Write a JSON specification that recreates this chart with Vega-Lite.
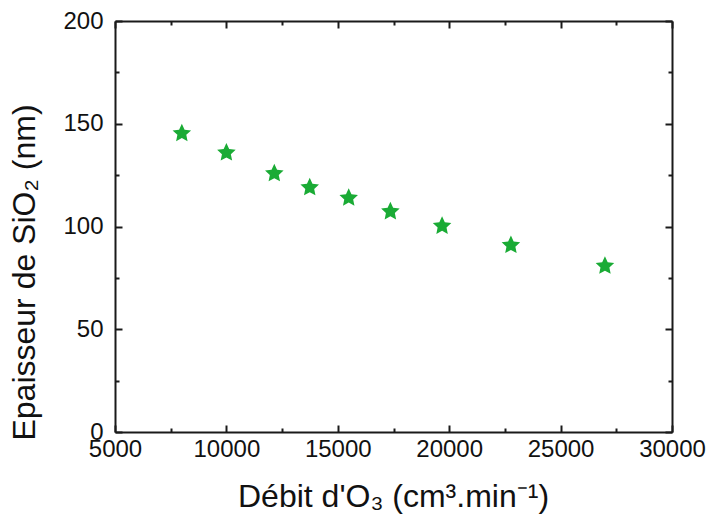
{
  "$schema": "https://vega.github.io/schema/vega-lite/v6.json",
  "width": 557,
  "height": 411,
  "autosize": {"type": "none"},
  "padding": {"left": 115, "top": 21, "right": 36, "bottom": 85},
  "background": "white",
  "config": {
    "view": {"stroke": null},
    "font": "Liberation Sans",
    "axis": {
      "grid": false,
      "domainColor": "#1a1a1a",
      "domainWidth": 2,
      "tickColor": "#1a1a1a",
      "tickWidth": 2,
      "labelFont": "Liberation Sans",
      "labelFontSize": 24,
      "labelColor": "#111111",
      "titleFont": "Liberation Sans",
      "titleFontSize": 32,
      "titleFontWeight": "normal",
      "titleColor": "#111111"
    }
  },
  "data": {
    "values": [
      {"debit": 8000, "epaisseur": 145.3},
      {"debit": 10000, "epaisseur": 135.9},
      {"debit": 12150, "epaisseur": 125.8},
      {"debit": 13740, "epaisseur": 119.0},
      {"debit": 15490, "epaisseur": 113.9},
      {"debit": 17360, "epaisseur": 107.3},
      {"debit": 19680, "epaisseur": 100.2},
      {"debit": 22770, "epaisseur": 90.9},
      {"debit": 26990, "epaisseur": 80.8}
    ]
  },
  "layer": [
    {
      "mark": {"type": "point", "shape": "M0,-1L0.282,-0.388L0.951,-0.309L0.456,0.148L0.588,0.809L0,0.48L-0.588,0.809L-0.456,0.148L-0.951,-0.309L-0.282,-0.388Z", "filled": true, "size": 380, "color": "#1aab35", "opacity": 1},
      "encoding": {
        "x": {
          "field": "debit", "type": "quantitative",
          "scale": {"domain": [5000, 30000], "nice": false, "zero": false},
          "axis": {
            "orient": "bottom",
            "title": "Débit d'O₃ (cm³.min⁻¹)",
            "values": [5000, 10000, 15000, 20000, 25000, 30000],
            "format": "d",
            "tickSize": -7,
            "labelPadding": 12,
            "labelFlush": false,
            "labelOverlap": false,
            "titleX": 278,
            "titleY": 74,
            "titleBaseline": "alphabetic",
            "titleAlign": "center"
          }
        },
        "y": {
          "field": "epaisseur", "type": "quantitative",
          "scale": {"domain": [0, 200], "nice": false},
          "axis": {
            "orient": "left",
            "title": "Epaisseur de SiO₂ (nm)",
            "values": [0, 50, 100, 150, 200],
            "tickSize": -7,
            "labelPadding": 19,
            "labelFlush": false,
            "labelOverlap": false,
            "titleX": -81,
            "titleY": 251,
            "titleAngle": -90,
            "titleBaseline": "alphabetic",
            "titleAlign": "center"
          }
        }
      }
    },
    {
      "mark": {"type": "point", "opacity": 0},
      "encoding": {
        "x": {
          "field": "debit", "type": "quantitative",
          "axis": {"orient": "top", "title": null, "labels": false, "values": [5000, 10000, 15000, 20000, 25000, 30000], "tickSize": -7}
        },
        "y": {
          "field": "epaisseur", "type": "quantitative",
          "axis": {"orient": "right", "title": null, "labels": false, "values": [0, 50, 100, 150, 200], "tickSize": -7}
        }
      }
    },
    {
      "mark": {"type": "point", "opacity": 0},
      "encoding": {
        "x": {
          "field": "debit", "type": "quantitative",
          "axis": {"orient": "bottom", "title": null, "labels": false, "domain": false, "values": [7500, 12500, 17500, 22500, 27500], "tickSize": -4}
        },
        "y": {
          "field": "epaisseur", "type": "quantitative",
          "axis": {"orient": "left", "title": null, "labels": false, "domain": false, "values": [25, 75, 125, 175], "tickSize": -4}
        }
      }
    },
    {
      "mark": {"type": "point", "opacity": 0},
      "encoding": {
        "x": {
          "field": "debit", "type": "quantitative",
          "axis": {"orient": "top", "title": null, "labels": false, "domain": false, "values": [7500, 12500, 17500, 22500, 27500], "tickSize": -4}
        },
        "y": {
          "field": "epaisseur", "type": "quantitative",
          "axis": {"orient": "right", "title": null, "labels": false, "domain": false, "values": [25, 75, 125, 175], "tickSize": -4}
        }
      }
    }
  ],
  "resolve": {"axis": {"x": "independent", "y": "independent"}}
}
